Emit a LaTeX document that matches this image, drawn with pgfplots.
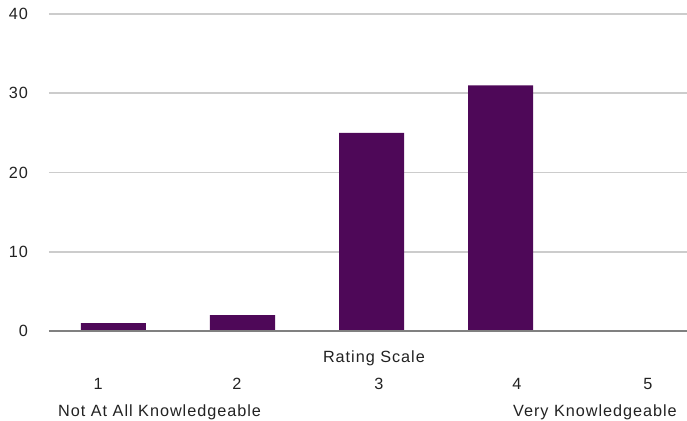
\documentclass[border=0pt]{standalone}
\usepackage{pgfplots}
\pgfplotsset{compat=1.18}
\usepackage{fontspec}
\setmainfont{Liberation Sans}[LetterSpace=6]
\definecolor{barpurple}{RGB}{78,8,88}
\definecolor{gridgray}{RGB}{204,204,204}
\definecolor{axgray}{RGB}{128,128,128}
\definecolor{txt}{RGB}{34,34,34}
\begin{document}
\begin{tikzpicture}
\begin{axis}[
  at={(0,0)}, anchor=south west,
  scale only axis,
  width=645bp, height=317bp,
  xmin=0, xmax=5, ymin=0, ymax=40,
  ytick={0,10,20,30,40},
  xtick=\empty,
  axis line style={draw=none},
  major tick length=0pt,
  ymajorgrids,
  grid style={gridgray, line width=1.6bp},
  /pgf/number format/assume math mode=true,
  yticklabel style={anchor=east, inner sep=0pt, xshift=-21bp, font=\fontsize{16.3}{19}\selectfont, text=txt},
  clip=false,
  ybar, bar width=65bp,
]
\addplot[fill=barpurple, draw=none, bar shift=0pt] coordinates {(0.5,1) (1.5,2) (2.5,25) (3.5,31)};
\draw[axgray, line width=1.8bp] (axis cs:0,0) -- (axis cs:5,0);
\begin{scope}[every node/.style={font=\fontsize{16.3}{19}\selectfont, text=txt, inner sep=0pt}]
\node[anchor=base] at (axis cs:2.519,-3.97) {Rating Scale};
\node[anchor=base] at (axis cs:0.380,-7.32) {1};
\node[anchor=base] at (axis cs:1.457,-7.32) {2};
\node[anchor=base] at (axis cs:2.558,-7.32) {3};
\node[anchor=base] at (axis cs:3.628,-7.32) {4};
\node[anchor=base] at (axis cs:4.643,-7.32) {5};
\node[anchor=base west] at (axis cs:0.07,-10.85) {Not At All Knowledgeable};
\node[anchor=base east] at (axis cs:4.868,-10.85) {Very Knowledgeable};
\end{scope}
\end{axis}
\pgfresetboundingbox
\path[use as bounding box] (-49bp,-90bp) rectangle (638bp,331bp);
\end{tikzpicture}
\end{document}
